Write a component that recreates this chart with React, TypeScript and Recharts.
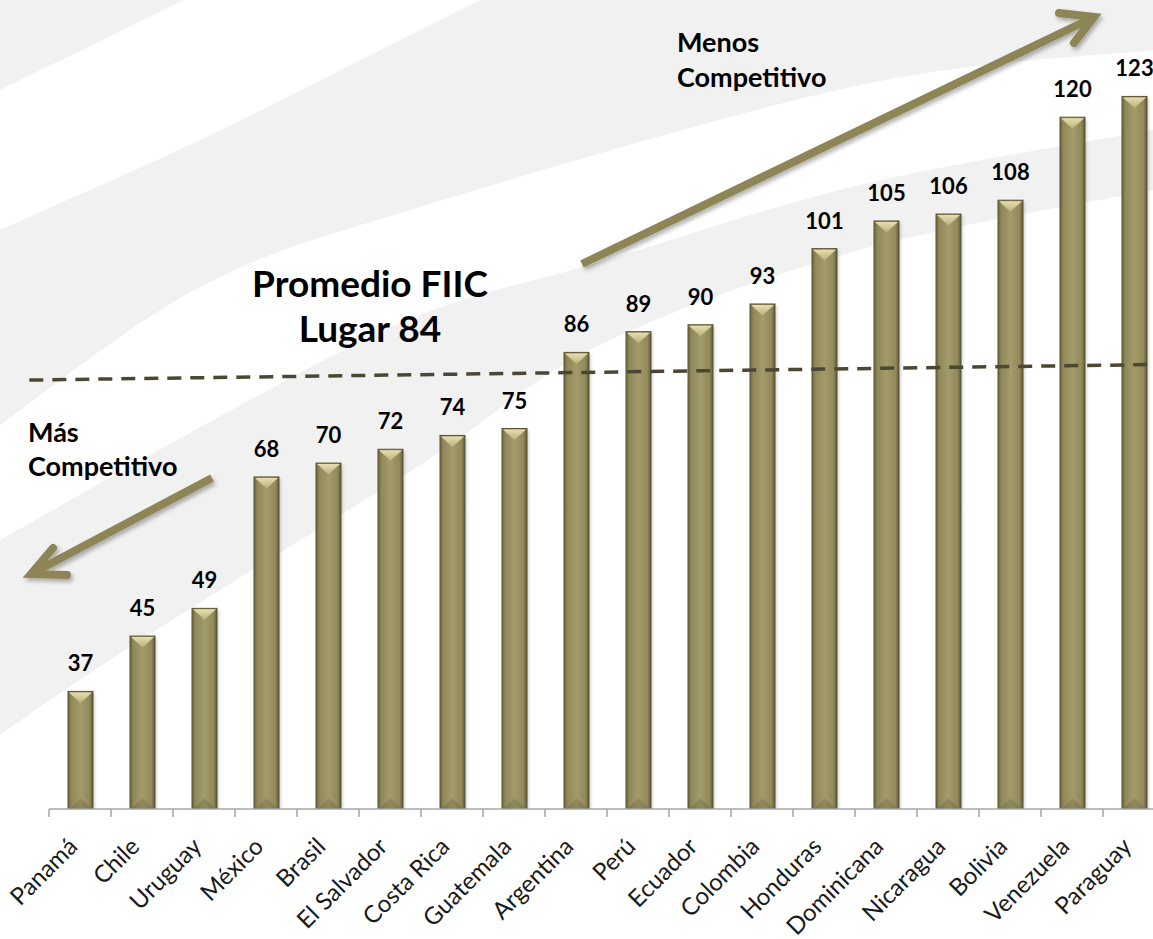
import React from 'react'
import {
  BarChart,
  Bar,
  XAxis,
  YAxis,
  LabelList,
  ReferenceLine,
} from 'recharts'

const countries = [
  'Panamá', 'Chile', 'Uruguay', 'México', 'Brasil', 'El Salvador', 'Costa Rica',
  'Guatemala', 'Argentina', 'Perú', 'Ecuador', 'Colombia', 'Honduras',
  'Dominicana', 'Nicaragua', 'Bolivia', 'Venezuela', 'Paraguay',
]
const ranks = [37, 45, 49, 68, 70, 72, 74, 75, 86, 89, 90, 93, 101, 105, 106, 108, 120, 123]

// dashed "promedio" line, drawn slightly tilted in the original
const avgLinePos = [-0.3, 18]
const avgLineRank = [82.0, 84.4]

const rows = countries.map((country, i) => ({ country, rank: ranks[i] }))

const FONT = 'Lato, "Open Sans", sans-serif'
const OLIVE = '#8d8557'

// smooth path through points (catmull-rom -> bezier)
function smooth(pts: number[][]): string {
  let d = ''
  for (let i = 0; i < pts.length - 1; i++) {
    const p0 = pts[i - 1] || pts[i]
    const p1 = pts[i]
    const p2 = pts[i + 1]
    const p3 = pts[i + 2] || p2
    const c1 = [p1[0] + (p2[0] - p0[0]) / 6, p1[1] + (p2[1] - p0[1]) / 6]
    const c2 = [p2[0] - (p3[0] - p1[0]) / 6, p2[1] - (p3[1] - p1[1]) / 6]
    d += ` C${c1[0]},${c1[1]} ${c2[0]},${c2[1]} ${p2[0]},${p2[1]}`
  }
  return d
}

const b1 = [[0, 90], [90, 46], [184, 0]]
const b2 = [[0, 230], [200, 140], [420, 30], [480, 0]]
const b3 = [[0, 425], [200, 287], [420, 207], [860, 85], [1153, 50]]
const b4 = [[0, 540], [250, 400], [420, 315], [600, 262], [860, 185], [1153, 130]]
const b5 = [[0, 735], [125, 650], [420, 465], [600, 345], [860, 250], [1153, 190]]

function Background() {
  const rev = (p: number[][]) => [...p].reverse()
  const g = '#f1f1f1'
  return (
    <svg width={1153} height={939} style={{ position: 'absolute', left: 0, top: 0 }}>
      <path d={`M${b1[0]}${smooth(b1)} L0,0 Z`} fill={g} />
      <path
        d={`M${b2[0]}${smooth(b2)} L1153,0 L${b3[b3.length - 1]}${smooth(rev(b3))} Z`}
        fill={g}
      />
      <path
        d={`M${b4[0]}${smooth(b4)} L${b5[b5.length - 1]}${smooth(rev(b5))} Z`}
        fill={g}
      />
    </svg>
  )
}

function BevelBar(props: any) {
  const { x, y, width: w, height: h } = props
  if (!h || h <= 0) return null
  const bev = w * 0.42
  return (
    <g>
      <rect x={x + 2} y={y + 2} width={w} height={h - 2} fill="rgba(0,0,0,0.16)" filter="url(#barShadow)" />
      <rect x={x} y={y} width={w} height={h} fill="url(#barGrad)" stroke="#5a5534" strokeWidth={1} />
      <polygon
        points={`${x + 1},${y + 1} ${x + w - 1},${y + 1} ${x + w / 2},${y + 1 + bev}`}
        fill="url(#topGrad)"
      />
      <polygon
        points={`${x + 1},${y + h} ${x + w - 1},${y + h} ${x + w / 2},${y + h - bev}`}
        fill="rgba(60,55,30,0.18)"
      />
    </g>
  )
}

function CountryTick(props: any) {
  const { x, y, payload } = props
  const half = payload && payload.offset ? payload.offset : 31
  const ax = x - 1
  const ay = y + 31
  return (
    <g>
      <line x1={x - half} y1={y - 8} x2={x - half} y2={y} stroke="#a6a6a6" strokeWidth={1.5} />
      <text
        x={ax}
        y={ay}
        transform={`rotate(-45, ${ax}, ${ay})`}
        textAnchor="end"
        fontFamily={FONT}
        fontSize={24}
        fill="#1a1a1a"
      >
        {payload.value}
      </text>
    </g>
  )
}

function Arrow({ from, to, w1, w2 }: { from: number[]; to: number[]; w1: number[]; w2: number[] }) {
  return (
    <g filter="url(#arrowShadow)">
      <line x1={from[0]} y1={from[1]} x2={to[0]} y2={to[1]} stroke={OLIVE} strokeWidth={8} />
      <polyline
        points={`${w1[0]},${w1[1]} ${to[0]},${to[1]} ${w2[0]},${w2[1]}`}
        fill="none"
        stroke={OLIVE}
        strokeWidth={8}
        strokeLinejoin="miter"
        strokeLinecap="round"
      />
    </g>
  )
}

function Annotations() {
  const t = { fontFamily: FONT, fontWeight: 700, fill: '#000' }
  return (
    <svg width={1153} height={939} style={{ position: 'absolute', left: 0, top: 0, pointerEvents: 'none' }}>
      <defs>
        <filter id="arrowShadow" x="-10%" y="-10%" width="130%" height="130%">
          <feDropShadow dx="2" dy="3" stdDeviation="2" floodColor="#000" floodOpacity="0.3" />
        </filter>
      </defs>
      <Arrow from={[582, 264]} to={[1094, 17]} w1={[1059, 13]} w2={[1074, 43]} />
      <Arrow from={[212, 478]} to={[31, 574]} w1={[53, 548]} w2={[67, 575]} />
      <text x={370} y={297} textAnchor="middle" fontSize={37} {...t}>Promedio FIIC</text>
      <text x={370} y={342} textAnchor="middle" fontSize={37} {...t}>Lugar 84</text>
      <text x={677} y={52} fontSize={27} {...t}>Menos</text>
      <text x={677} y={87} fontSize={27} {...t}>Competitivo</text>
      <text x={28} y={442} fontSize={27} {...t}>Más</text>
      <text x={28} y={476} fontSize={27} {...t}>Competitivo</text>
    </svg>
  )
}

export default function App() {
  return (
    <div
      style={{
        position: 'absolute',
        left: 0,
        top: 0,
        width: 1153,
        height: 939,
        overflow: 'hidden',
        background: '#fff',
        fontFamily: FONT,
      }}
    >
      <Background />
      <div style={{ position: 'absolute', left: 0, top: 0 }}>
        <BarChart
          width={1165}
          height={939}
          data={rows}
          margin={{ top: 48, right: 0, left: 49, bottom: 100 }}
        >
          <defs>
            <linearGradient id="barGrad" x1="0" y1="0" x2="1" y2="0">
              <stop offset="0%" stopColor="#6a6440" />
              <stop offset="14%" stopColor="#918959" />
              <stop offset="50%" stopColor="#a39b6b" />
              <stop offset="86%" stopColor="#918959" />
              <stop offset="100%" stopColor="#5e5936" />
            </linearGradient>
            <linearGradient id="topGrad" x1="0" y1="0" x2="0" y2="1">
              <stop offset="0%" stopColor="#e6deae" />
              <stop offset="100%" stopColor="#b9b07e" />
            </linearGradient>
            <filter id="barShadow" x="-20%" y="-5%" width="140%" height="110%">
              <feGaussianBlur stdDeviation="1.5" />
            </filter>
          </defs>
          <XAxis
            xAxisId="cat"
            dataKey="country"
            interval={0}
            tickLine={false}
            axisLine={{ stroke: '#a6a6a6', strokeWidth: 1.5 }}
            tick={<CountryTick />}
          />
          <XAxis xAxisId="num" type="number" domain={[0, 18]} hide allowDataOverflow />
          <YAxis domain={[20, 130]} hide allowDataOverflow />
          <Bar
            xAxisId="cat"
            dataKey="rank"
            barSize={25}
            shape={<BevelBar />}
            isAnimationActive={false}
          >
            <LabelList
              dataKey="rank"
              position="top"
              offset={20}
              style={{ fontFamily: FONT, fontWeight: 700, fontSize: 22, fill: '#000' }}
            />
          </Bar>
          <ReferenceLine
            xAxisId="num"
            segment={[
              { x: avgLinePos[0], y: avgLineRank[0] },
              { x: avgLinePos[1], y: avgLineRank[1] },
            ]}
            stroke="#4b4732"
            strokeWidth={3.5}
            strokeDasharray="14 9"
            ifOverflow="visible"
          />
        </BarChart>
      </div>
      <Annotations />
    </div>
  )
}
